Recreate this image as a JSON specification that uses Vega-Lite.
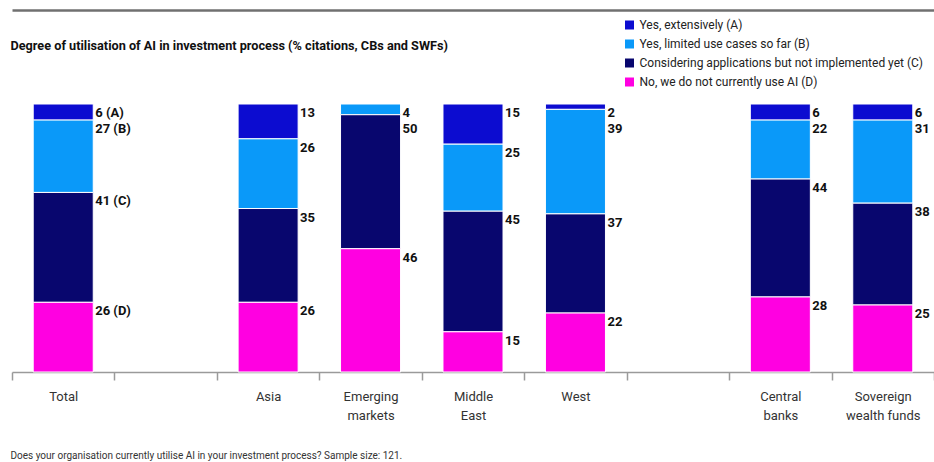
{
  "$schema": "https://vega.github.io/schema/vega-lite/v6.json",
  "width": 922,
  "height": 268,
  "autosize": "none",
  "padding": {"left": 12, "top": 104, "right": 0, "bottom": 90},
  "background": "white",
  "config": {
    "view": {"stroke": null},
    "font": "Roboto"
  },
  "data": {
    "values": [
      {"group": "Total", "code": "A", "answer": "Yes, extensively (A)", "value": 6, "label": "6 (A)"},
      {"group": "Total", "code": "B", "answer": "Yes, limited use cases so far (B)", "value": 27, "label": "27 (B)"},
      {"group": "Total", "code": "C", "answer": "Considering applications but not implemented yet (C)", "value": 41, "label": "41 (C)"},
      {"group": "Total", "code": "D", "answer": "No, we do not currently use AI (D)", "value": 26, "label": "26 (D)"},
      {"group": "Asia", "code": "A", "answer": "Yes, extensively (A)", "value": 13, "label": "13"},
      {"group": "Asia", "code": "B", "answer": "Yes, limited use cases so far (B)", "value": 26, "label": "26"},
      {"group": "Asia", "code": "C", "answer": "Considering applications but not implemented yet (C)", "value": 35, "label": "35"},
      {"group": "Asia", "code": "D", "answer": "No, we do not currently use AI (D)", "value": 26, "label": "26"},
      {"group": "Emerging markets", "code": "B", "answer": "Yes, limited use cases so far (B)", "value": 4, "label": "4"},
      {"group": "Emerging markets", "code": "C", "answer": "Considering applications but not implemented yet (C)", "value": 50, "label": "50"},
      {"group": "Emerging markets", "code": "D", "answer": "No, we do not currently use AI (D)", "value": 46, "label": "46"},
      {"group": "Middle East", "code": "A", "answer": "Yes, extensively (A)", "value": 15, "label": "15"},
      {"group": "Middle East", "code": "B", "answer": "Yes, limited use cases so far (B)", "value": 25, "label": "25"},
      {"group": "Middle East", "code": "C", "answer": "Considering applications but not implemented yet (C)", "value": 45, "label": "45"},
      {"group": "Middle East", "code": "D", "answer": "No, we do not currently use AI (D)", "value": 15, "label": "15"},
      {"group": "West", "code": "A", "answer": "Yes, extensively (A)", "value": 2, "label": "2"},
      {"group": "West", "code": "B", "answer": "Yes, limited use cases so far (B)", "value": 39, "label": "39"},
      {"group": "West", "code": "C", "answer": "Considering applications but not implemented yet (C)", "value": 37, "label": "37"},
      {"group": "West", "code": "D", "answer": "No, we do not currently use AI (D)", "value": 22, "label": "22"},
      {"group": "Central banks", "code": "A", "answer": "Yes, extensively (A)", "value": 6, "label": "6"},
      {"group": "Central banks", "code": "B", "answer": "Yes, limited use cases so far (B)", "value": 22, "label": "22"},
      {"group": "Central banks", "code": "C", "answer": "Considering applications but not implemented yet (C)", "value": 44, "label": "44"},
      {"group": "Central banks", "code": "D", "answer": "No, we do not currently use AI (D)", "value": 28, "label": "28"},
      {"group": "Sovereign wealth funds", "code": "A", "answer": "Yes, extensively (A)", "value": 6, "label": "6"},
      {"group": "Sovereign wealth funds", "code": "B", "answer": "Yes, limited use cases so far (B)", "value": 31, "label": "31"},
      {"group": "Sovereign wealth funds", "code": "C", "answer": "Considering applications but not implemented yet (C)", "value": 38, "label": "38"},
      {"group": "Sovereign wealth funds", "code": "D", "answer": "No, we do not currently use AI (D)", "value": 25, "label": "25"}
    ]
  },
  "transform": [
    {"stack": "value", "groupby": ["group"], "sort": [{"field": "code", "order": "descending"}], "as": ["v0", "v1"]}
  ],
  "layer": [
    {
      "mark": {"type": "bar", "width": {"band": 0.586}, "stroke": "white", "strokeWidth": 1},
      "encoding": {
        "x": {
          "field": "group", "type": "nominal",
          "scale": {"domain": ["Total", " ", "Asia", "Emerging markets", "Middle East", "West", "  ", "Central banks", "Sovereign wealth funds"], "paddingInner": 0, "paddingOuter": 0},
          "axis": {
            "orient": "bottom",
            "tickBand": "extent",
            "labelAngle": 0,
            "labelFontSize": 13,
            "labelColor": "#333333",
            "labelPadding": 10,
            "labelLineHeight": 19,
            "labelLimit": 200,
            "labelExpr": "datum.value == 'Emerging markets' ? ['Emerging', 'markets'] : datum.value == 'Middle East' ? ['Middle', 'East'] : datum.value == 'Central banks' ? ['Central', 'banks'] : datum.value == 'Sovereign wealth funds' ? ['Sovereign', 'wealth funds'] : datum.label",
            "domainColor": "#9a9a9a",
            "domainWidth": 1.5,
            "tickColor": "#9a9a9a",
            "tickWidth": 1.5,
            "tickSize": 8,
            "title": "Does your organisation currently utilise AI in your investment process? Sample size: 121.",
            "titleX": -2,
            "titleY": 83,
            "titleAlign": "left",
            "titleAnchor": "start",
            "titleBaseline": "middle",
            "titleFontSize": 10,
            "titleFontWeight": "normal",
            "titleColor": "#333333"
          }
        },
        "y": {"field": "v1", "type": "quantitative", "scale": {"domain": [0, 100], "nice": false, "zero": true}, "axis": null},
        "y2": {"field": "v0"},
        "color": {
          "field": "answer", "type": "nominal",
          "scale": {
            "domain": ["Yes, extensively (A)", "Yes, limited use cases so far (B)", "Considering applications but not implemented yet (C)", "No, we do not currently use AI (D)"],
            "range": ["#0c0cd0", "#0a99f9", "#08066e", "#ff00e1"]
          },
          "legend": {
            "orient": "none",
            "legendX": 611.5,
            "legendY": -85,
            "title": null,
            "padding": 0,
            "symbolType": "square",
            "symbolSize": 81,
            "symbolStrokeWidth": 0,
            "labelFontSize": 12,
            "labelColor": "#222222",
            "labelOffset": 4,
            "labelLimit": 400,
            "rowPadding": 7
          }
        }
      }
    },
    {
      "transform": [{"filter": "!((datum.group == 'West' && datum.code == 'B') || (datum.group == 'Emerging markets' && datum.code == 'C'))"}],
      "mark": {"type": "text", "align": "left", "baseline": "middle", "dx": 32, "dy": 9, "fontSize": 13, "fontWeight": "bold", "color": "#111111"},
      "encoding": {
        "x": {
          "field": "group", "type": "nominal",
          "axis": {
            "orient": "top",
            "offset": 94,
            "labels": false,
            "ticks": false,
            "domainColor": "#707070",
            "domainWidth": 2.5,
            "title": "Degree of utilisation of AI in investment process (% citations, CBs and SWFs)",
            "titleX": -2,
            "titleY": 35,
            "titleAlign": "left",
            "titleAnchor": "start",
            "titleBaseline": "middle",
            "titleFontSize": 12.7,
            "titleFontWeight": "bold",
            "titleColor": "#111111"
          }
        },
        "y": {"field": "v1", "type": "quantitative"},
        "text": {"field": "label", "type": "nominal"}
      }
    },
    {
      "transform": [{"filter": "(datum.group == 'West' && datum.code == 'B') || (datum.group == 'Emerging markets' && datum.code == 'C')"}],
      "mark": {"type": "text", "align": "left", "baseline": "middle", "dx": 32, "dy": 24.5, "fontSize": 13, "fontWeight": "bold", "color": "#111111"},
      "encoding": {
        "x": {"field": "group", "type": "nominal", "axis": null},
        "y": {"datum": 100, "type": "quantitative"},
        "text": {"field": "label", "type": "nominal"}
      }
    }
  ],
  "resolve": {"axis": {"x": "independent"}}
}
